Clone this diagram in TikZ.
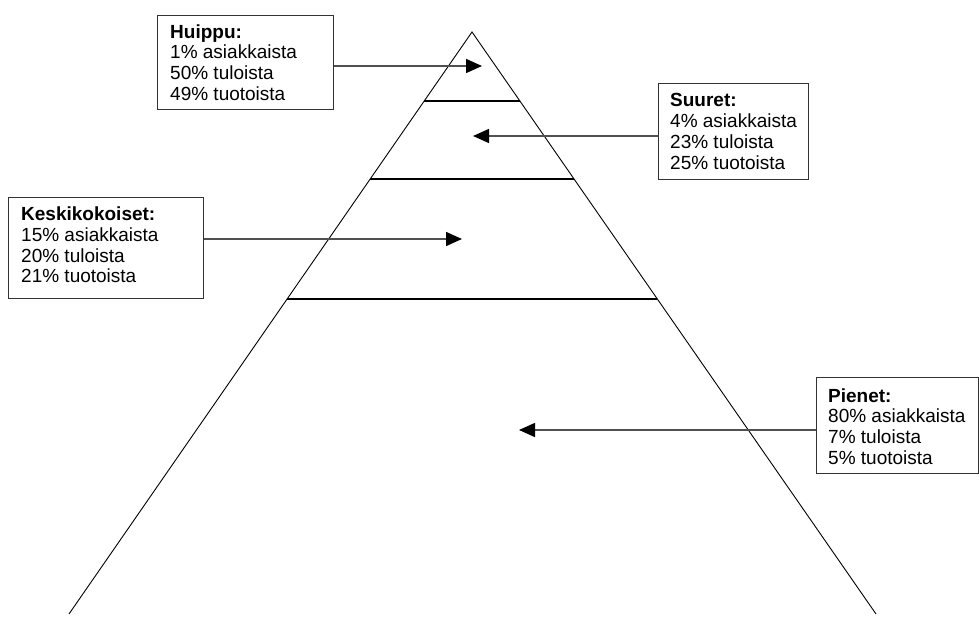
\documentclass[tikz,border=0pt]{standalone}
\usepackage{fontspec}
\setmainfont{Liberation Sans}
\usetikzlibrary{arrows.meta,calc}
\definecolor{arrgray}{HTML}{505050}
\definecolor{boxgray}{HTML}{333333}
\tikzset{
  pyr/.style={line width=0.9pt, black},
  layer/.style={line width=1.1pt, black},
  infobox/.style={draw=boxgray, line width=1pt, anchor=north west, inner sep=0pt},
  infotext/.style={anchor=west, align=left, inner sep=0pt, font=\fontsize{19}{20.7}\selectfont},
  arr/.style={line width=1.5pt, arrgray, -{Triangle[length=16pt,width=14pt,fill=black,color=black]}}
}
\begin{document}
\begin{tikzpicture}[x=1pt,y=-1pt]
\useasboundingbox (0,0) rectangle (979,617);
% pyramid
\coordinate (A) at (472,32);
\coordinate (BL) at (69,614);
\coordinate (BR) at (876,614);
\draw[pyr] (BL) -- (A) -- (BR);
\coordinate (L1) at ($(A)!0.1186!(BL)$);
\coordinate (R1) at ($(A)!0.1186!(BR)$);
\coordinate (L2) at ($(A)!0.2526!(BL)$);
\coordinate (R2) at ($(A)!0.2526!(BR)$);
\coordinate (L3) at ($(A)!0.4588!(BL)$);
\coordinate (R3) at ($(A)!0.4588!(BR)$);
\draw[layer] (L1) -- (R1);
\draw[layer] (L2) -- (R2);
\draw[layer] (L3) -- (R3);
% boxes
\node[infobox, minimum width=176pt, minimum height=94pt] (hbox) at (157,15) {};
\node[infotext] (htxt) at ([xshift=13pt]hbox.west) {\textbf{Huippu:}\\1\% asiakkaista\\50\% tuloista\\49\% tuotoista};
\node[infobox, minimum width=150pt, minimum height=96pt] (sbox) at (658,83) {};
\node[infotext] (stxt) at ([xshift=12pt]sbox.west) {\textbf{Suuret:}\\4\% asiakkaista\\23\% tuloista\\25\% tuotoista};
\node[infobox, minimum width=195pt, minimum height=101pt] (kbox) at (8,197) {};
\node[infotext] (ktxt) at ([xshift=13pt,yshift=3pt]kbox.west) {\textbf{Keskikokoiset:}\\15\% asiakkaista\\20\% tuloista\\21\% tuotoista};
\node[infobox, minimum width=162pt, minimum height=96pt] (pbox) at (816,377) {};
\node[infotext] (ptxt) at ([xshift=12pt,yshift=-1pt]pbox.west) {\textbf{Pienet:}\\80\% asiakkaista\\7\% tuloista\\5\% tuotoista};
% arrow tips
\coordinate (th) at (482,66);
\coordinate (ts) at (473,136);
\coordinate (tk) at (462,239);
\coordinate (tp) at (519,430);
\draw[arr] (hbox.east |- th) -- (th);
\draw[arr] (sbox.west |- ts) -- (ts);
\draw[arr] (kbox.east |- tk) -- (tk);
\draw[arr] (pbox.west |- tp) -- (tp);
\end{tikzpicture}
\end{document}
